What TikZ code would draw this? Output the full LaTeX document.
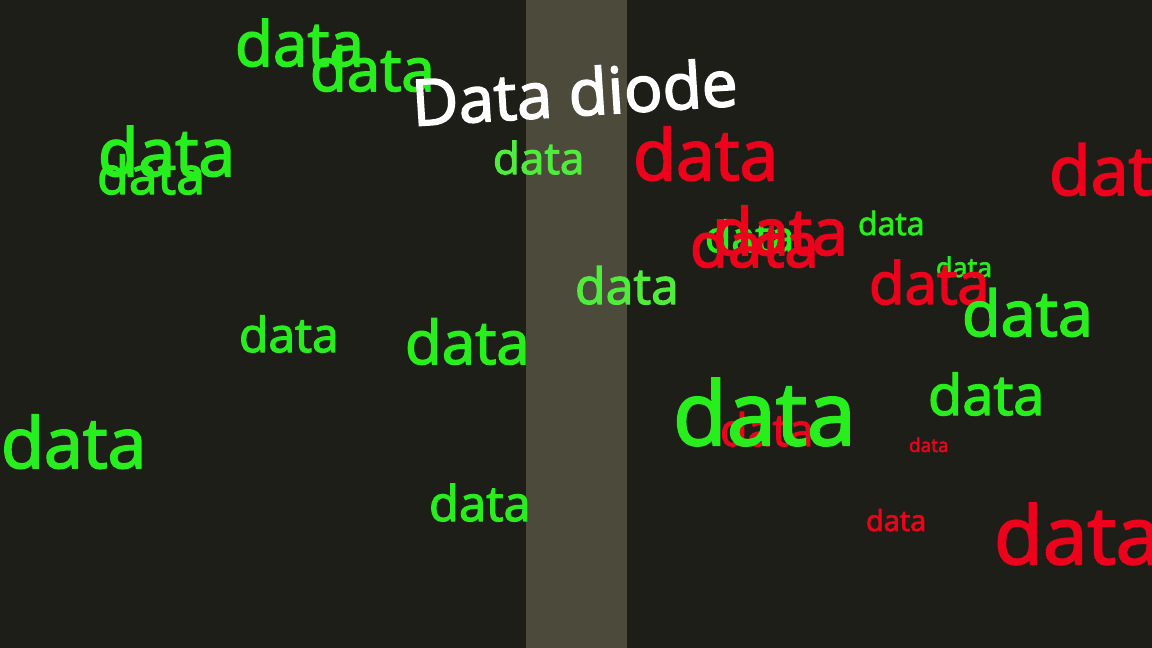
\documentclass[tikz,border=0pt]{standalone}
\usepackage{fontspec}
\setmainfont{Open Sans}
\newfontfamily\thick{Open Sans}[FakeBold=2.5]
\definecolor{bg}{RGB}{30,30,24}
\definecolor{band}{RGB}{76,74,58}
\definecolor{gr}{RGB}{40,238,30}
\definecolor{lgr}{RGB}{80,236,60}
\definecolor{rd}{RGB}{236,0,28}
\newcommand\dword[5]{\node[word,text=#5,font=\thick\fontsize{#4}{#4}\selectfont] (#1) at (#2,#3) {data};}
\tikzset{word/.style={anchor=base west,inner sep=0pt,outer sep=0pt}}
\begin{document}
\begin{tikzpicture}[x=1pt,y=-1pt]
\useasboundingbox (0,0) rectangle (1152,648);
\fill[bg] (0,0) rectangle (1152,648);
\fill[band] (526,0) rectangle (627,648);
\dword{w1}{235}{66}{62}{gr}
\dword{w2}{310}{91}{60}{gr}
\dword{w5}{97}{194}{52}{gr}
\dword{w4}{98}{176}{66}{gr}
\dword{w6}{493}{174}{44}{lgr}
\dword{w7}{633}{180}{70}{rd}
\dword{w8}{1049}{195}{68}{rd}
\dword{w11}{705}{252}{43}{gr}
\dword{w10}{690}{267}{62}{rd}
\dword{w9}{713}{255}{65}{rd}
\dword{w12}{858}{235}{32}{gr}
\dword{w13}{936}{277}{27}{gr}
\dword{w14}{869}{304}{58}{rd}
\dword{w15}{962}{336}{63}{gr}
\dword{w16}{575}{304}{50}{lgr}
\dword{w17}{239}{352}{48}{gr}
\dword{w18}{405}{364}{60}{gr}
\dword{w20}{720}{446}{45}{rd}
\dword{w19}{673}{445}{88}{gr}
\dword{w21}{928}{415}{56}{gr}
\dword{w22}{909}{452}{19}{rd}
\dword{w23}{1}{468}{70}{gr}
\dword{w24}{429}{521}{49}{gr}
\dword{w25}{866}{531}{29}{rd}
\dword{w26}{994}{564}{80}{rd}
\node[anchor=base west,inner sep=0pt,text=white,rotate=3.6,font=\thick\fontsize{64}{64}\selectfont] (title) at (413,126) {Data diode};
\end{tikzpicture}
\end{document}
